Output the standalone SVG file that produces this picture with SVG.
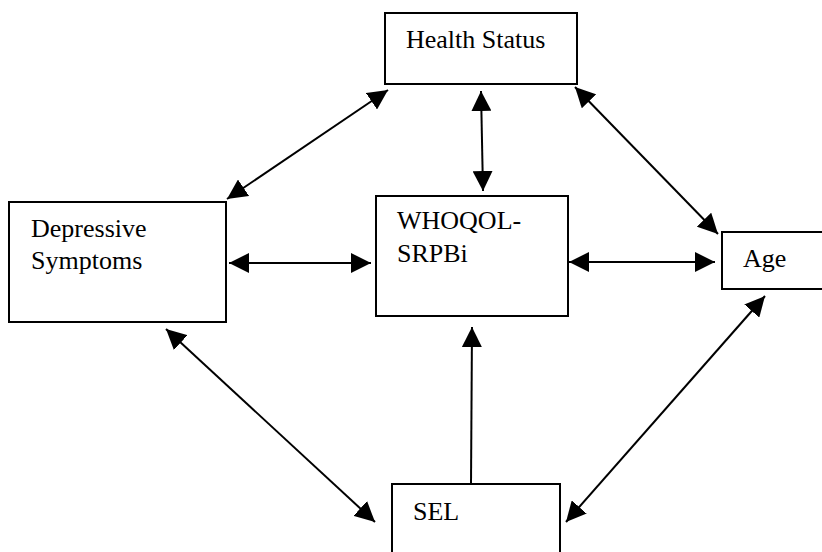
<svg xmlns="http://www.w3.org/2000/svg" width="822" height="552" viewBox="0 0 822 552">
<style>
.box{fill:#fff;stroke:#000;stroke-width:2}
.lbl{font-family:"Liberation Serif","Times New Roman",serif;font-size:26px;fill:#000}
.c{stroke:#000;stroke-width:2;fill:none}
.d{marker-start:url(#ah);marker-end:url(#ah)}
.s{marker-end:url(#ah)}
</style>
<defs>
<marker id="ah" markerUnits="userSpaceOnUse" markerWidth="22" markerHeight="20" refX="20" refY="10" orient="auto-start-reverse" viewBox="0 0 22 20">
<path d="M0,0 L20,10 L0,20 z" fill="#000"/>
</marker>
</defs>
<rect width="822" height="552" fill="#fff"/>
<g id="health-status"><rect class="box" x="385" y="13" width="192" height="71"/><text class="lbl" x="406" y="48">Health Status</text></g>
<g id="depressive-symptoms"><rect class="box" x="9" y="202" width="217" height="120"/><text class="lbl" x="31" y="237">Depressive</text><text class="lbl" x="31" y="269">Symptoms</text></g>
<g id="whoqol"><rect class="box" x="376" y="196" width="192" height="120"/><text class="lbl" x="397" y="229">WHOQOL-</text><text class="lbl" x="397" y="262">SRPBi</text></g>
<g id="age"><rect class="box" x="722" y="232" width="110" height="57"/><text class="lbl" x="743" y="267">Age</text></g>
<g id="sel"><rect class="box" x="392" y="484" width="168" height="80"/><text class="lbl" x="413" y="520">SEL</text></g>
<g id="connectors">
<line class="c d" x1="388" y1="90" x2="227" y2="199"/>
<line class="c d" x1="481" y1="91" x2="483" y2="191"/>
<line class="c d" x1="575" y1="87" x2="718" y2="234"/>
<line class="c d" x1="229" y1="263" x2="371" y2="263"/>
<line class="c d" x1="569" y1="262" x2="715" y2="262"/>
<line class="c d" x1="166" y1="329" x2="375" y2="522"/>
<line class="c s" x1="471" y1="484" x2="472" y2="327"/>
<line class="c d" x1="566" y1="522" x2="765" y2="296"/>
</g>
</svg>
